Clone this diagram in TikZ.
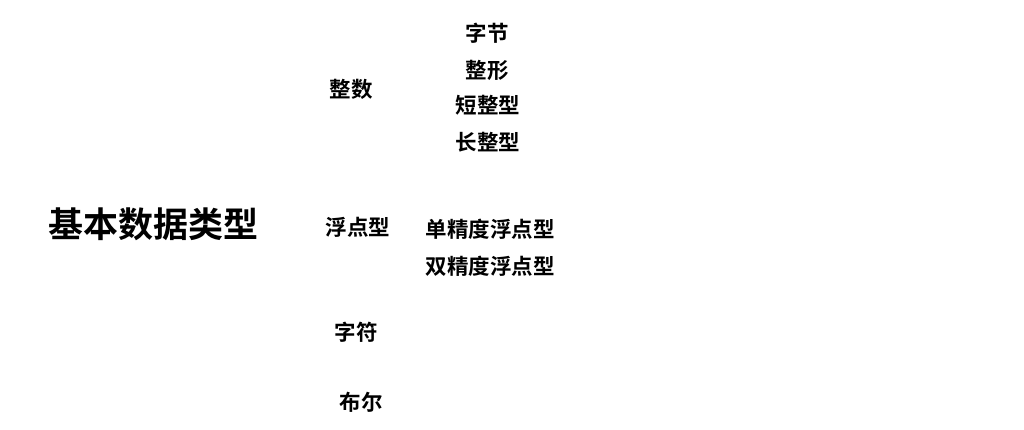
\documentclass[tikz,border=0pt]{standalone}
\usepackage{fontspec}
\newfontfamily\cjk{Noto Sans CJK SC}[BoldFont={Noto Sans CJK SC Bold}]
\begin{document}
\begin{tikzpicture}[x=1pt,y=1pt,
  lbl/.style={font=\cjk\bfseries\fontsize{21.5}{24}\selectfont, inner sep=0pt, anchor=center},
  big/.style={font=\cjk\bfseries\fontsize{35}{40}\selectfont, inner sep=0pt, anchor=center}]
\useasboundingbox (0,0) rectangle (1024,-429);
\node[big] (root) at (153,-224) {基本数据类型};
\node[lbl] (int) at (351,-89) {整数};
\node[lbl] (byte) at (487,-33) {字节};
\node[lbl] (intx) at (487,-70) {整形};
\node[lbl] (short) at (488,-105) {短整型};
\node[lbl] (long) at (488,-142) {长整型};
\node[lbl] (float) at (358,-227) {浮点型};
\node[lbl] (single) at (490,-229) {单精度浮点型};
\node[lbl] (double) at (490,-266) {双精度浮点型};
\node[lbl] (char) at (356,-332) {字符};
\node[lbl] (bool) at (361,-402) {布尔};
\end{tikzpicture}
\end{document}
